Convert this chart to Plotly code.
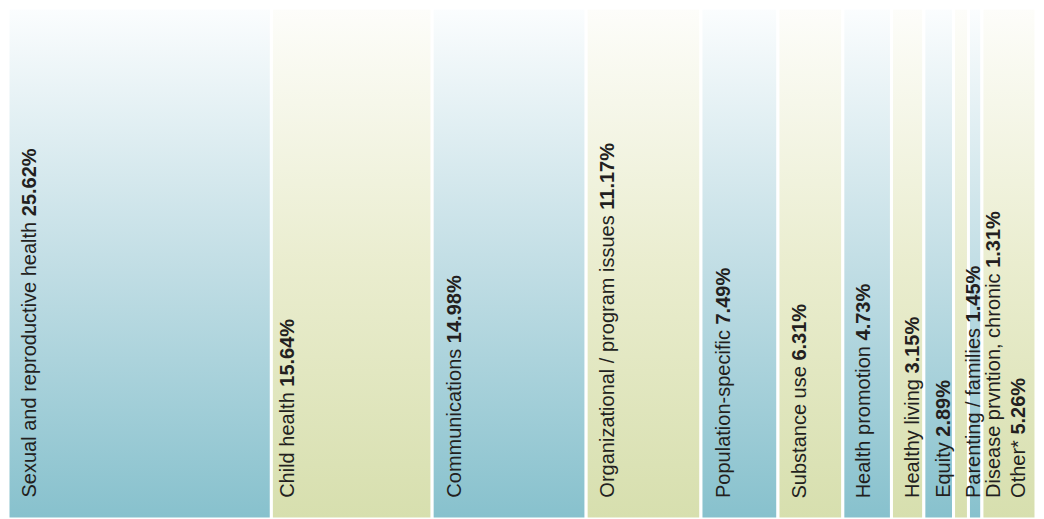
import numpy as np
import plotly.graph_objects as go

categories = [
    "Sexual and reproductive health", "Child health", "Communications",
    "Organizational / program issues", "Population-specific", "Substance use",
    "Health promotion", "Healthy living", "Equity", "Parenting / families",
    "Disease prvntion, chronic", "Other*",
]
percent = [25.62, 15.64, 14.98, 11.17, 7.49, 6.31, 4.73, 3.15, 2.89, 1.45, 1.31, 5.26]

# styling (not data)
family = ["blue", "green"] * 6
family[-2] = "blue"
family[-1] = "green"
label_shift_px = [20, 15, 21, 20, 22, 21, 20, 20, 19, 19, 24, 36]

scales = {
    "blue": [[0, "#87c1cd"], [0.5, "#c2dee5"], [1, "#fbfdfe"]],
    "green": [[0, "#d7dfae"], [0.5, "#eaedcf"], [1, "#fdfdfa"]],
}

left = np.concatenate([[0], np.cumsum(percent)[:-1]])
right = left + np.array(percent)

fig = go.Figure()
for i, cat in enumerate(categories):
    x0, x1 = left[i], right[i]
    fig.add_trace(go.Scatter(
        x=[x0, x1, x1, x0, x0], y=[0, 0, 1, 1, 0],
        mode="lines", fill="toself",
        line=dict(color="white", width=3),
        fillgradient=dict(type="vertical", colorscale=scales[family[i]], start=0, stop=1),
        hoverinfo="text", text=f"{cat} {percent[i]:.2f}%", showlegend=False,
    ))
    fig.add_annotation(
        x=x0, y=0, xref="x", yref="y",
        text=f"{cat} <b>{percent[i]:.2f}%</b>",
        textangle=-90, showarrow=False,
        xanchor="center", yanchor="bottom",
        xshift=label_shift_px[i], yshift=19,
        font=dict(family="Liberation Sans, Arial, sans-serif", size=20, color="#231f20"),
    )

fig.update_layout(
    width=1028, height=511,
    margin=dict(l=0, r=0, t=0, b=0),
    paper_bgcolor="white", plot_bgcolor="white",
    xaxis=dict(range=[0, 100], visible=False, fixedrange=True),
    yaxis=dict(range=[0, 1], visible=False, fixedrange=True),
)
fig.write_html("out.html")
